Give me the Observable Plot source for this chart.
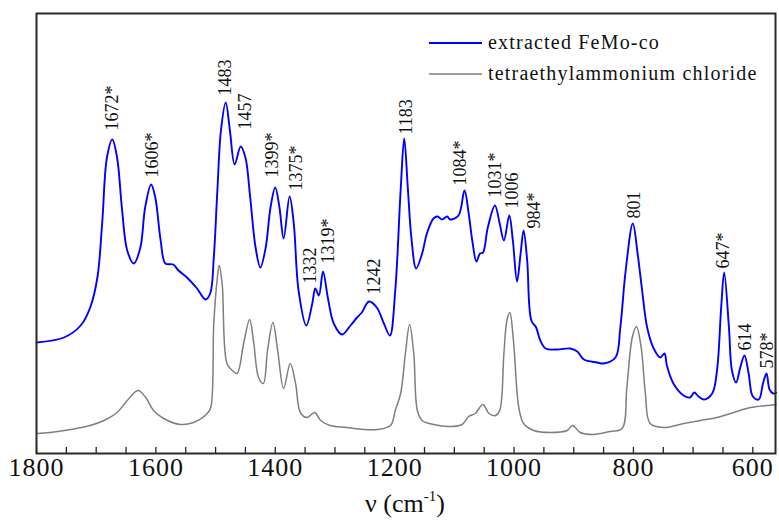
<!DOCTYPE html>
<html><head><meta charset="utf-8">
<script src="https://cdn.jsdelivr.net/npm/d3@7"></script>
<script src="https://cdn.jsdelivr.net/npm/@observablehq/plot@0.6"></script>
<style>body{margin:0;background:#fff} #chart{width:779px;height:523px} #chart svg, #chart svg text{font-family:"Liberation Serif","DejaVu Serif",serif !important}</style>
</head><body><div id="chart"></div>
<script>
// Extracted FeMo-co spectrum (wavenumber, relative intensity)
const femoWn = [1800,1754,1726,1710,1698,1690,1682,1673,1665,1657,1648,1637,1626,1618,1608,1601,1592,1584,1571,1562,1548,1531,1517,1509,1503,1497,1491,1483,1476,1468,1458,1450,1442,1433,1425,1416,1408,1400,1393,1386,1376,1369,1361,1348,1338,1333,1327,1320,1312,1302,1288,1274,1263,1255,1243,1230,1218,1208,1199,1190,1184,1178,1172,1164,1154,1146,1135,1128,1121,1112,1107,1093,1083,1076,1070,1063,1057,1052,1044,1032,1024,1017,1008,1002,995,989,984,978,971,963,956,947,928,906,894,883,861,850,830,822,813,801,793,786,777,766,755,748,744,733,716,705,698,691,682,668,660,653,648,640,635,628,621,614,607,600,590,583,577,572,566,561];
const femoI  = [111,116,128,146,176,230,296,314,296,246,203,190,206,246,269,256,213,190,189,183,176,165,154,160,196,263,323,351,323,289,307,296,256,206,186,206,246,266,246,215,257,230,163,128,150,165,158,182,156,130,119,128,136,141,152,146,130,118,163,263,315,266,216,185,200,220,235,237,234,237,234,238,263,240,213,192,200,201,226,248,230,213,238,213,172,200,223,193,133,126,113,105,104,105,102,94,91,90,96,126,183,230,200,166,126,105,96,100,88,70,58,56,61,57,54,60,83,146,181,126,83,71,86,98,80,57,54,70,80,64,60,61];
// Tetraethylammonium chloride spectrum
const tetWn = [1800,1777,1743,1710,1687,1665,1648,1630,1617,1604,1587,1559,1537,1514,1508,1503,1497,1494,1489,1481,1472,1464,1453,1443,1436,1428,1420,1413,1404,1396,1386,1375,1366,1358,1347,1334,1324,1308,1280,1252,1229,1207,1199,1190,1182,1175,1168,1162,1154,1135,1107,1087,1076,1065,1052,1042,1031,1024,1017,1012,1007,1001,992,984,967,939,911,902,889,867,839,819,811,802,795,787,780,772,749,716,688,660,632,604,576,561];
const tetI  = [20,21,24,28,33,41,53,63,56,43,35,29,31,40,46,130,176,188,170,90,83,80,110,134,110,76,70,103,131,103,65,90,70,41,36,41,33,28,26,24,24,28,43,60,100,129,100,43,33,29,27,29,37,40,49,40,38,43,100,133,141,113,46,30,23,21,23,28,21,19,22,25,66,116,127,106,60,30,26,30,33,36,41,46,48,49];
// Peak annotations
const peakText = ["1672*","1606*","1483","1457","1399*","1375*","1332","1319*","1242","1183","1084*","1031*","1006","984*","801","647*","614","578*"];
const peakWn   = [1673,1606,1483,1450,1405,1365,1342,1311,1235,1180,1090,1032,1003,967,799,649,612,576];
const peakI    = [323,276,358,324,276,263,170,190,159,319,268,256,245,225,235,185,103,85];
// Axis ticks and legend
const majorTicks = [1800,1600,1400,1200,1000,800,600];
const minorTicks = [1800,1750,1700,1650,1600,1550,1500,1450,1400,1350,1300,1250,1200,1150,1100,1050,1000,950,900,850,800,750,700,650,600];
const seriesNames = ["extracted FeMo-co","tetraethylammonium chloride"];
const seriesColors = ["#0000ff","#7f7f7f"];

const femo = femoWn.map((w,i)=>({wn:w, v:femoI[i]}));
const tet = tetWn.map((w,i)=>({wn:w, v:tetI[i]}));
const peaks = peakText.map((t,i)=>({t, wn:peakWn[i], v:peakI[i]}));

const font = "Liberation Serif, DejaVu Serif, serif";
const plot = Plot.plot({
  width: 779, height: 523,
  marginLeft: 36, marginRight: 4, marginTop: 13, marginBottom: 70,
  x: {domain: [1800, 562]},
  y: {domain: [0, 440], axis: null},
  style: {fontFamily: font, background: "#fff", color: "#111"},
  marks: [
    Plot.line(tet, {x:"wn", y:"v", stroke: seriesColors[1], strokeWidth: 1.5, curve: "catmull-rom"}),
    Plot.line(femo, {x:"wn", y:"v", stroke: seriesColors[0], strokeWidth: 1.9, curve: "catmull-rom"}),
    Plot.text(peaks, {x:"wn", y:"v", text:"t", rotate:-90, textAnchor:"start", lineAnchor:"middle", fontSize:18, fill:"#111"}),
    Plot.axisX({ticks: minorTicks, tickSize: -6, text: null, label: null, strokeWidth: 1.3, stroke: "#222"}),
    Plot.axisX({ticks: majorTicks, tickSize: 0, tickPadding: 4, fontSize: 26, tickFormat: d => String(d), label: null, fill: "#111"}),
    Plot.frame({stroke: "#2a2a2a", strokeWidth: 2})
  ]
});

const svg = d3.select(plot);
svg.selectAll("[aria-label='x-axis tick label'] text").style("letter-spacing", "1px");
// x-axis title
const t = svg.append("text").attr("x", 405).attr("y", 512).attr("text-anchor", "middle")
  .style("font-size", "26px").attr("fill", "#111");
t.append("tspan").text("ν (cm");
t.append("tspan").text("-1").style("font-size", "15px").attr("dy", -11);
t.append("tspan").text(")").attr("dy", 11);
// legend
const lg = svg.append("g").attr("text-anchor", "start");
seriesNames.forEach((n, i) => {
  const y = 43 + i * 31;
  lg.append("line").attr("x1", 429).attr("x2", 482).attr("y1", y).attr("y2", y)
    .attr("stroke", seriesColors[i]).attr("stroke-width", i ? 1.5 : 1.9);
  lg.append("text").attr("x", 488).attr("y", y).attr("dy", "0.32em").attr("text-anchor", "start").text(n)
    .style("font-size", "20px").style("letter-spacing", "1.2px").attr("fill", "#111");
});
document.getElementById("chart").appendChild(plot);
</script></body></html>
